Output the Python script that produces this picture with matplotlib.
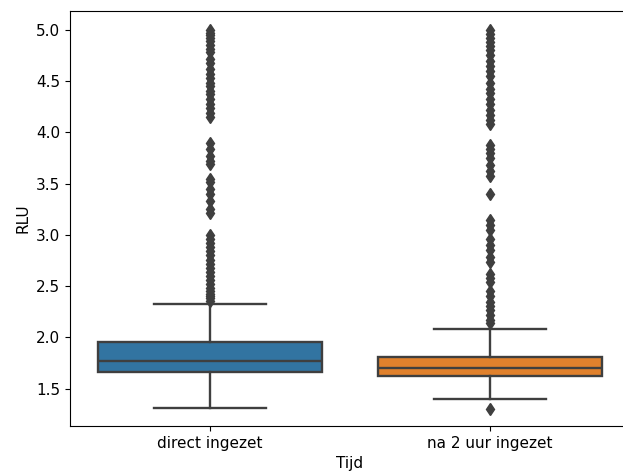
import numpy as np
import matplotlib
matplotlib.use('Agg')
import matplotlib.pyplot as plt

plt.rcParams['font.size'] = 11

groups = ['direct ingezet', 'na 2 uur ingezet']
colors = ['#3274a1', '#e1812c']

# box statistics (RLU)
q1 = [1.667, 1.628]
median = [1.767, 1.703]
q3 = [1.953, 1.810]
whislo = [1.308, 1.396]
whishi = [2.328, 2.084]

fliers_direct = [5.0, 4.97, 4.95, 4.92, 4.89, 4.85, 4.81, 4.78, 4.72, 4.68, 4.62, 4.57,
                 4.53, 4.48, 4.45, 4.40, 4.37, 4.33, 4.28, 4.24, 4.19, 4.15,
                 3.90, 3.84, 3.77, 3.72, 3.69, 3.55, 3.52, 3.45, 3.40, 3.33, 3.25, 3.21,
                 3.00, 2.96, 2.92, 2.88, 2.84, 2.80, 2.76, 2.72, 2.68, 2.64, 2.60,
                 2.56, 2.52, 2.48, 2.45, 2.42, 2.40, 2.38, 2.36]
fliers_2uur = [5.0, 4.96, 4.92, 4.88, 4.84, 4.80, 4.75, 4.70, 4.65, 4.60, 4.55,
               4.48, 4.42, 4.38, 4.33, 4.28, 4.22, 4.17, 4.12, 4.08,
               3.88, 3.84, 3.80, 3.75, 3.68, 3.62, 3.57, 3.40,
               3.15, 3.10, 3.05, 2.96, 2.90, 2.85, 2.78, 2.74, 2.62, 2.58, 2.54,
               2.45, 2.40, 2.35, 2.31, 2.27, 2.22, 2.17, 2.14, 1.30]
fliers = [fliers_direct, fliers_2uur]

stats = []
for i in range(len(groups)):
    stats.append({'q1': q1[i], 'med': median[i], 'q3': q3[i],
                  'whislo': whislo[i], 'whishi': whishi[i],
                  'fliers': np.array(fliers[i]), 'label': groups[i]})

fig = plt.figure(figsize=(6.23, 4.75), dpi=100)
ax = fig.add_axes([70 / 623, 49 / 475, 560 / 623, 415 / 475])

line = '#3f3f3f'
bp = ax.bxp(stats, positions=range(len(groups)), widths=0.8, patch_artist=True,
            boxprops=dict(edgecolor=line, linewidth=1.7),
            medianprops=dict(color=line, linewidth=1.7),
            whiskerprops=dict(color=line, linewidth=1.7),
            capprops=dict(color=line, linewidth=1.7),
            flierprops=dict(marker='d', markerfacecolor=line, markeredgecolor=line,
                            markersize=6, linestyle='none'))
for patch, c in zip(bp['boxes'], colors):
    patch.set_facecolor(c)

ax.set_xlim(-0.5, 1.5)
ax.set_ylim(1.136, 5.184)
ax.set_xticks(range(len(groups)))
ax.set_xticklabels(groups)
ax.set_yticks(np.arange(1.5, 5.01, 0.5))
ax.set_xlabel('Tijd')
ax.set_ylabel('RLU')
plt.savefig('out.png', dpi=100)
